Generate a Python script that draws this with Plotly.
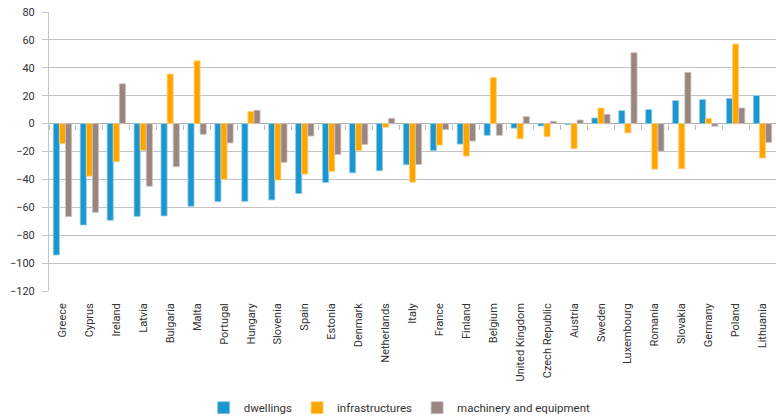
import plotly.graph_objects as go

countries = ["Greece", "Cyprus", "Ireland", "Latvia", "Bulgaria", "Malta", "Portugal", "Hungary",
             "Slovenia", "Spain", "Estonia", "Denmark", "Netherlands", "Italy", "France", "Finland",
             "Belgium", "United Kingdom", "Czech Republic", "Austria", "Sweden", "Luxembourg",
             "Romania", "Slovakia", "Germany", "Poland", "Lithuania"]

dwellings = [-94.2, -72.7, -69.3, -66.5, -66.2, -59.3, -55.9, -55.7,
             -54.7, -50.1, -42.2, -35.3, -33.8, -29.5, -19.4, -14.7,
             -8.4, -3.3, -1.7, -0.7, 4.0, 9.3,
             10.0, 16.5, 17.2, 18.0, 20.1]

infrastructures = [-14.4, -37.7, -27.3, -19.2, 35.5, 45.0, -40.0, 8.8,
                   -40.5, -36.2, -34.3, -19.4, -2.7, -42.0, -15.4, -23.3,
                   33.1, -10.9, -9.4, -18.0, 11.2, -6.7,
                   -32.6, -32.4, 3.6, 57.0, -24.7]

machinery = [-66.7, -63.6, 28.5, -44.9, -30.9, -7.7, -13.9, 9.6,
             -27.8, -8.9, -22.1, -14.9, 3.8, -29.3, -4.3, -12.5,
             -8.4, 5.0, 1.7, 2.6, 6.7, 50.8,
             -19.7, 36.7, -1.9, 11.2, -13.5]

y_ticks = [-120, -100, -80, -60, -40, -20, 0, 20, 40, 60, 80]

FONT = "Roboto, Liberation Sans, sans-serif"
TXT = "#333333"

series = [
    ("dwellings", dwellings, "#1b96ce", "#8fcbe8"),
    ("infrastructures", infrastructures, "#ffa500", "#ffd27f"),
    ("machinery and equipment", machinery, "#9a8680", "#cdc2be"),
]

fig = go.Figure()
for name, vals, col, edge in series:
    fig.add_trace(go.Bar(
        x=countries, y=vals, name=name,
        marker=dict(color=col, line=dict(color=edge, width=0.8)),
    ))

# helper trace so the zero-line category ticks axis is drawn
fig.add_trace(go.Scatter(x=countries, y=[0] * len(countries), xaxis="x2", mode="none",
                         showlegend=False, hoverinfo="skip"))

fig.update_layout(
    width=776, height=416,
    margin=dict(l=49, r=0, t=12, b=125),
    plot_bgcolor="white", paper_bgcolor="white",
    font=dict(family=FONT, size=11, color=TXT),
    barmode="group", bargap=0.32, bargroupgap=0.0,
    showlegend=True,
    legend=dict(orientation="h", xref="container", yref="container",
                x=0.515, xanchor="center", y=0.02, yanchor="middle",
                font=dict(family=FONT, size=11.5, color=TXT),
                traceorder="normal", itemwidth=30),
    xaxis=dict(
        type="category", showgrid=False, showline=False, ticks="",
        tickangle=-90, tickfont=dict(family=FONT, size=11, color=TXT),
        zeroline=False, automargin=False, ticklabelstandoff=9,
    ),
    xaxis2=dict(
        type="category", matches="x", overlaying="x", anchor="free", position=0.6,
        showticklabels=False, showgrid=False, showline=False,
        ticks="outside", tickson="boundaries", ticklen=5, tickcolor="#bdbdbd", tickwidth=1,
        zeroline=False, automargin=False,
    ),
    yaxis=dict(
        range=[-120, 80], tickvals=y_ticks, showgrid=True, gridcolor="#c4c4c4", gridwidth=1,
        zeroline=True, zerolinecolor="#b0b0b0", zerolinewidth=1,
        showline=True, linecolor="#c4c4c4", linewidth=1,
        ticks="outside", ticklen=6, tickcolor="#c4c4c4",
        tickfont=dict(family=FONT, size=11, color=TXT),
        automargin=False, ticklabelstandoff=5,
    ),
)

fig.write_html("out.html", config={"displayModeBar": False},
               post_script="document.body.style.margin='0';document.body.style.overflow='hidden';")
